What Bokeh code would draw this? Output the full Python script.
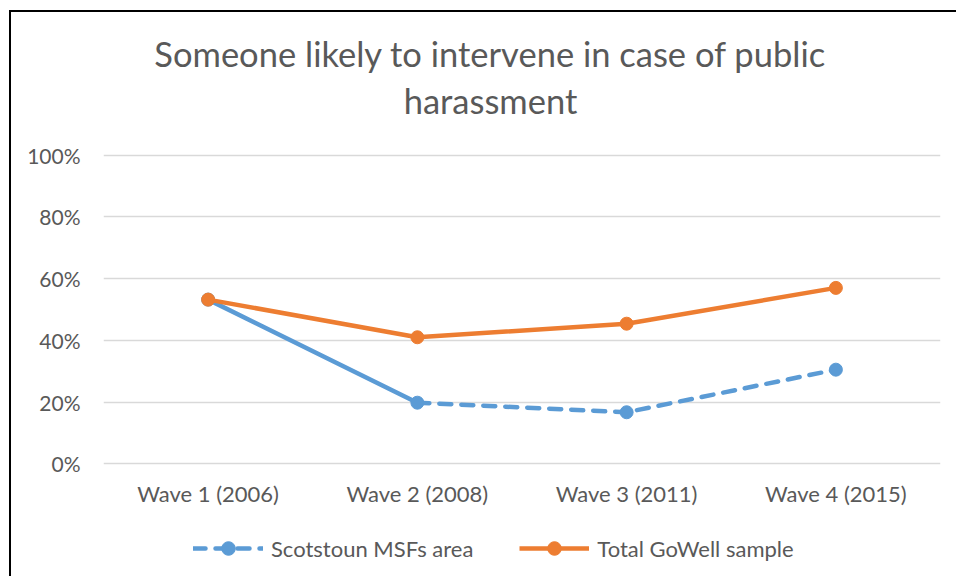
from bokeh.plotting import figure
from bokeh.models import (FactorRange, Range1d, FixedTicker, NumeralTickFormatter,
                          Legend, LegendItem, Label)
from bokeh.embed import file_html
from bokeh.resources import INLINE

# Survey waves and share of residents who think someone is likely to intervene
categories = ["Wave 1 (2006)", "Wave 2 (2008)", "Wave 3 (2011)", "Wave 4 (2015)"]
scotstoun = [0.532, 0.198, 0.167, 0.305]
gowell = [0.532, 0.410, 0.454, 0.570]
y_ticks = [0, 0.2, 0.4, 0.6, 0.8, 1.0]
title_lines = ["Someone likely to intervene in case of public", "harassment"]

BLUE = "#5B9BD5"
ORANGE = "#ED7D31"
GREY_TXT = "#595959"
GRID = "#D9D9D9"
FONT = "Lato"
LW = 4.5

# The plot area runs the full height so that the title and legend can sit inside it;
# only 0-100% carries ticks and grid lines.
p = figure(
    x_range=FactorRange(factors=categories, range_padding=0),
    y_range=Range1d(-0.3717, 1.4624),
    width=947, height=566,
    output_backend="svg", toolbar_location=None,
    min_border_left=92, min_border_right=18,
    min_border_top=0, min_border_bottom=0,
    outline_line_color=None,
    background_fill_color="white", border_fill_color="white",
)
p.title = None
p.styles = {"border-top": "2px solid #000000", "border-left": "2px solid #000000",
            "margin-left": "9px", "margin-top": "10px"}

# Axes
p.yaxis.ticker = FixedTicker(ticks=y_ticks)
p.yaxis.formatter = NumeralTickFormatter(format="0%")
p.xaxis.fixed_location = 0
for ax in (p.xaxis[0], p.yaxis[0]):
    ax.axis_line_color = None
    ax.major_tick_line_color = None
    ax.minor_tick_line_color = None
    ax.major_tick_out = 0
    ax.major_tick_in = 0
    ax.major_label_text_font = FONT
    ax.major_label_text_color = GREY_TXT
p.yaxis.major_label_text_font_size = "21px"
p.xaxis.major_label_text_font_size = "22px"
p.yaxis.major_label_standoff = 23
p.xaxis.major_label_standoff = 16

p.xgrid.grid_line_color = None
p.ygrid.ticker = FixedTicker(ticks=y_ticks)
p.ygrid.grid_line_color = GRID
p.ygrid.grid_line_width = 1.5

# Scotstoun MSFs area: solid first segment, dashed thereafter
p.line(categories[:2], scotstoun[:2], line_color=BLUE, line_width=LW, line_cap="round")
s_line = p.line(categories[1:], scotstoun[1:], line_color=BLUE, line_width=LW,
                line_dash="12 10", line_cap="round")
s_pts = p.scatter(categories, scotstoun, size=13, fill_color=BLUE, line_color=BLUE)

# Total GoWell sample: solid line, drawn on top
g_line = p.line(categories, gowell, line_color=ORANGE, line_width=LW, line_join="round")
g_pts = p.scatter(categories, gowell, size=13, fill_color=ORANGE, line_color=ORANGE)

# Two-line centred title
for text, y in zip(title_lines, (525, 478)):
    p.add_layout(Label(x=387, y=y, x_units="screen", y_units="screen", text=text,
                       text_align="center", text_baseline="alphabetic",
                       text_font=FONT, text_font_size="34.5px", text_color=GREY_TXT))

legend = Legend(
    items=[LegendItem(label="Scotstoun MSFs area", renderers=[s_line, s_pts]),
           LegendItem(label="Total GoWell sample", renderers=[g_line, g_pts])],
    orientation="horizontal", location=(90, 13),
    label_text_font=FONT, label_text_font_size="22px", label_text_color=GREY_TXT,
    glyph_width=70, glyph_height=34, label_standoff=8, spacing=46,
    padding=0, margin=0, border_line_color=None, background_fill_color=None,
)
p.add_layout(legend, "center")

open("out.html", "w").write(file_html(p, INLINE))
